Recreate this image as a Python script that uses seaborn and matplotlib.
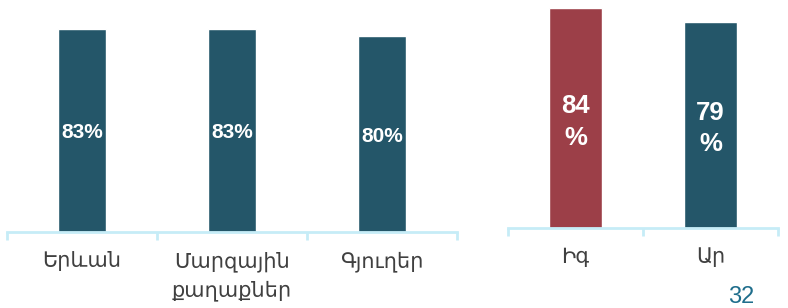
import matplotlib
matplotlib.use('Agg')
import matplotlib.pyplot as plt
import pandas as pd
import seaborn as sns

# data
place_labels = ['Երևան', 'Մարզային\nքաղաքներ', 'Գյուղեր']
place_values = [83, 83, 80]
sex_labels = ['Իգ', 'Ար']
sex_values = [84, 79]

teal = '#245669'
red = '#9c3f48'
axis_col = '#c6ecf7'
text_col = '#404040'

sns.set_theme(style='white')
plt.rcParams['font.family'] = ['DejaVu Sans']

fig = plt.figure(figsize=(7.88, 3.08), dpi=100)
ax1 = fig.add_axes([7 / 788, 76 / 308, 450 / 788, 232 / 308])
ax2 = fig.add_axes([508 / 788, 80 / 308, 270 / 788, 228 / 308])

df1 = pd.DataFrame({'cat': place_labels, 'val': place_values})
df2 = pd.DataFrame({'cat': sex_labels, 'val': sex_values})

sns.barplot(data=df1, x='cat', y='val', color=teal, width=0.315,
            saturation=1, ax=ax1)
sns.barplot(data=df2, x='cat', y='val', hue='cat', palette=[red, teal],
            width=0.39, saturation=1, legend=False, ax=ax2)

ax1.set_ylim(0, 94.8)
ax2.set_ylim(0, 87.25)

for ax, n in [(ax1, 3), (ax2, 2)]:
    ax.set_xlim(-0.5, n - 0.5)
    ax.set_xlabel('')
    ax.set_ylabel('')
    ax.set_yticks([])
    for s in ['top', 'right', 'left']:
        ax.spines[s].set_visible(False)
    ax.spines['bottom'].set_color(axis_col)
    ax.spines['bottom'].set_linewidth(2)
    ax.set_xticks([i - 0.5 for i in range(n + 1)], minor=True)
    ax.tick_params(axis='x', which='minor', length=6, width=2,
                   color=axis_col, direction='out', bottom=True)
    ax.tick_params(axis='x', which='major', length=0, pad=14,
                   labelsize=15, labelcolor=text_col)

ax1.set_xticks(range(3))
ax1.set_xticklabels(place_labels, linespacing=1.5)
ax2.set_xticks(range(2))
ax2.set_xticklabels(sex_labels)

for i, v in enumerate(place_values):
    ax1.text(i, v / 2 - 1, f'{v}%', ha='center', va='center', color='white',
             fontsize=15, fontweight='bold', family='Liberation Sans')
for i, v in enumerate(sex_values):
    ax2.text(i, v / 2 - 1.5, f'{v}\n%', ha='center', va='center',
             color='white', fontsize=18.5, fontweight='bold',
             family='Liberation Sans', linespacing=1.4)

fig.text(741 / 788, 0.0, '32', ha='center', va='bottom', fontsize=17,
         color='#1f6e8c', family='Liberation Sans')

fig.savefig('out.png', dpi=100)
